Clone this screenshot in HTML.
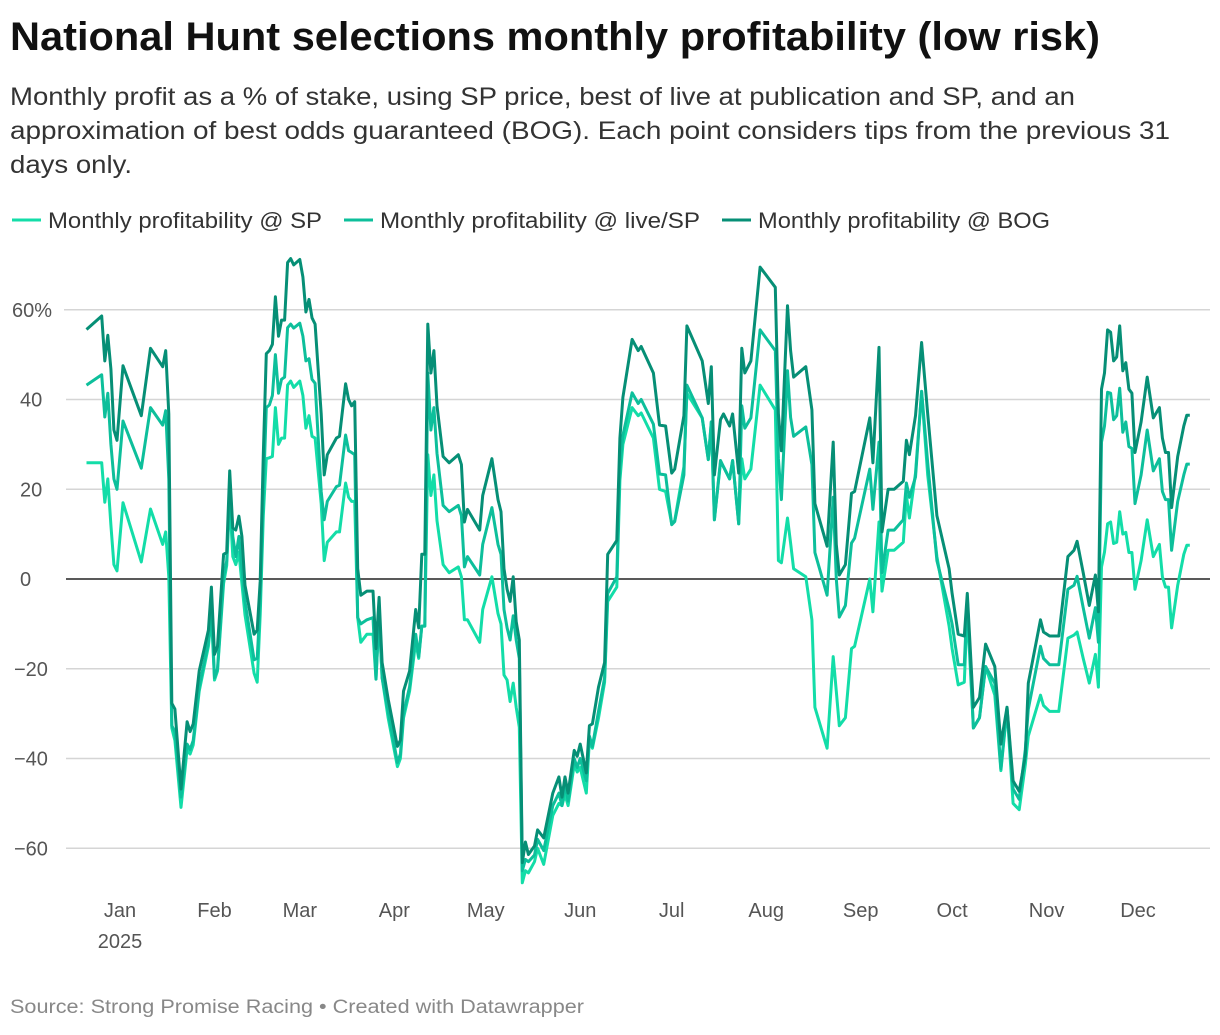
<!DOCTYPE html>
<html><head><meta charset="utf-8"><style>
body{margin:0;background:#fff;width:1220px;height:1030px;overflow:hidden;font-family:"Liberation Sans",sans-serif}
svg text{font-family:"Liberation Sans",sans-serif}
</style></head><body>
<svg id="chart" width="1220" height="1030" xmlns="http://www.w3.org/2000/svg">
<text x="10" y="50" font-size="40" font-weight="bold" fill="#111" textLength="1090" lengthAdjust="spacingAndGlyphs">National Hunt selections monthly profitability (low risk)</text>
<g font-size="25" fill="#333">
<text x="10" y="105" textLength="1065" lengthAdjust="spacingAndGlyphs">Monthly profit as a % of stake, using SP price, best of live at publication and SP, and an</text>
<text x="10" y="139" textLength="1160" lengthAdjust="spacingAndGlyphs">approximation of best odds guaranteed (BOG). Each point considers tips from the previous 31</text>
<text x="10" y="173" textLength="122" lengthAdjust="spacingAndGlyphs">days only.</text>
</g>
<g id="legend" font-size="22" fill="#333"></g>
<g id="grid"></g>
<g id="yaxis" font-size="20" fill="#555"></g>
<g id="xaxis" font-size="20" fill="#555"></g>
<g id="lines"></g>
<text x="10" y="1013" font-size="19" fill="#888" textLength="574" lengthAdjust="spacingAndGlyphs">Source: Strong Promise Racing • Created with Datawrapper</text>
</svg>
<script>
const days=[-11,-6,-5,-4,-3,-2,-1,1,7,10,14,15,16,17,18,20,22,23,24,26,29,30,31,32,34,35,36,37,38,39,40,41,44,45,46,47,48,49,50,51,52,53,54,55,56,57,59,60,61,62,63,64,66,67,68,71,72,74,75,76,77,78,79,81,83,84,85,86,88,91,92,93,95,97,98,99,100,101,102,103,104,106,108,111,112,113,114,118,119,122,124,125,126,127,128,129,130,131,132,133,134,136,137,139,142,144,145,146,147,149,150,151,153,154,155,157,159,160,163,164,165,168,170,171,175,177,179,181,182,185,186,191,193,194,195,197,198,200,201,203,204,205,207,210,215,216,217,219,220,221,225,227,228,232,234,235,236,238,240,241,246,247,249,250,252,254,257,258,259,261,263,265,268,272,273,275,277,278,280,282,284,287,289,291,293,295,297,298,302,303,305,308,311,313,314,316,318,320,321,322,323,324,325,326,327,328,329,330,331,332,333,335,337,339,341,342,343,344,345,347,349,350,351];
const bogValues=[55.6,58.6,48.6,54.3,46.8,33.2,30.9,47.5,36.4,51.4,47.3,50.9,36.8,-27.7,-29,-46.8,-31.8,-34,-32.3,-20.5,-11.4,-1.8,-16.8,-15,5.5,5.9,24.1,11.4,10.9,14,9.5,-1.4,-12.3,-11.4,-0.5,27.7,50.2,50.9,52.3,62.9,54.1,57.7,57.7,70.5,71.4,70,71.2,67.3,59.5,62.3,58.2,56.8,36.8,23.2,27.7,31.4,31.8,43.5,40,38.6,39.5,2.3,-3.6,-2.7,-2.7,-15.5,-4.1,-18.6,-26.8,-37.3,-35.9,-25,-20.5,-6.8,-10.9,5.5,5.5,56.8,45.9,50.9,38.6,27.3,25.9,27.7,25.5,12.7,15.5,10.9,18.6,26.8,17.7,15,2.3,-2.3,-5,0.5,-9.5,-13.6,-63.2,-58.6,-61.4,-59.5,-55.9,-57.7,-47.7,-44.1,-48.6,-44.1,-47.7,-38.2,-39.5,-36.8,-43.2,-32.7,-32.3,-24.1,-18.6,5.5,8.6,31.4,40.5,53.4,50.9,51.8,45.9,34.3,34.1,23.6,24.5,36.4,56.4,48.6,39.1,47.3,23.2,35.5,36.8,34.1,36.8,23.6,51.4,45.9,48.6,69.5,65,36.8,28.6,60.9,50.9,45,47.3,37.7,16.8,7.3,30.5,7.7,0.9,3.2,19.1,19.5,35.9,25.9,51.6,10.5,20,20,21.8,30.9,27.7,36.4,52.7,36.8,14.1,2.3,-3.2,-12.3,-12.7,-3.2,-28.6,-26.4,-14.5,-19.5,-36.8,-28.6,-45,-47.3,-39.5,-23.2,-9.1,-11.8,-12.7,-12.7,5,6.4,8.4,1.4,-5.9,0.9,-7.3,42.3,45.9,55.5,55,48.6,49.5,56.4,46.4,48.2,42.3,41.4,28.2,35,45,35.9,38.2,31.4,28.2,28.2,15.9,27.3,34.1,36.5,36.5];
const liveValues=[43.2,45.5,36.1,41.4,30,22.3,20,35.2,24.7,38.2,34.3,37.5,22.3,-32.7,-34,-48.6,-36.8,-38,-36,-24,-14,-6,-22,-20,0.5,4,20.5,9.5,5,9.5,2.3,-5,-18,-17.7,-5,18.6,38.2,38.8,40.9,50,41.4,44.5,45,56,56.8,55.9,57,54.1,48.6,49.1,44.5,43.6,19.5,13.2,17.3,20.6,20.9,32.1,28.6,28.2,27.7,-8.6,-10,-9.1,-8.6,-22.3,-7.7,-22,-29.5,-40.9,-39,-30,-24,-12.3,-17.3,-10.5,-10.5,45.9,33.2,38.2,28,16.4,15,16.4,14.1,2.7,5,0.9,7.7,15.9,7.7,5.5,-6.8,-10.9,-13.6,-8.2,-13.6,-17.7,-65,-62.5,-63,-61.5,-58,-60.5,-50.5,-47.7,-50.5,-45.5,-49.5,-40,-42,-40,-45,-35,-37.3,-29.5,-22,-3.2,0.5,25,32,41.5,39.1,40,34.5,23.4,23.2,12.1,12.8,23.2,43.2,35.9,26.6,35,13.2,26.4,25,22.3,26.4,12.3,38.6,33.6,35.9,55.5,50.9,26.8,17.7,46.4,36,31.8,33.9,25.5,5.9,-3.6,18.2,0,-8.5,-5.9,8,9.1,24.5,15.5,30.5,1.4,10.9,10.9,13.2,21.4,18.2,22.7,41.8,25.9,4.1,-6.8,-10,-19.1,-19.1,-4.1,-33.2,-30.9,-19.5,-23.2,-42.3,-28.6,-46.8,-49.1,-38,-29,-15,-17.7,-19.1,-19.1,-2.3,-1.4,0.6,-6.4,-13.2,-6.4,-14.1,30.5,34.1,41.6,41.4,35.5,36.4,42.5,32.7,35,29.5,29.1,16.8,23.2,33.2,24.1,26.8,19.5,17.7,17.7,6.4,17.3,23.2,25.6,25.6];
const spValues=[25.9,25.9,17.1,22.3,12,3.2,1.8,17,3.8,15.6,7.7,10.5,0.5,-33.2,-36,-50.9,-38,-39,-37,-25,-15,-8,-22.5,-20.5,-1,3,17.8,5,3.2,6,-1,-8,-21,-23,-8,14.1,26.8,27,27.3,38.2,30,31.4,31.4,43.2,44.1,42.7,44.1,40.9,33.6,36.4,31.8,31.4,16.8,4.1,8.2,10.5,10.5,21.4,18.2,17.3,17.3,-8.6,-14.1,-12.3,-12.3,-22.3,-7.7,-22,-31,-41.8,-40,-31,-25,-14,-17.7,-10.5,-10.5,27.7,18.6,23.2,13,3.2,1.4,2.7,0.5,-9.1,-9.1,-14.1,-6.8,0.5,-7.7,-10,-21.4,-22.5,-27.3,-23.2,-28.6,-33,-67.7,-65,-65.5,-63,-60,-63.6,-52.7,-50,-50.5,-48,-50.5,-41.4,-43,-42,-47.7,-35.9,-37.7,-31,-23,-5,-1.8,22,30,38.2,36.4,37,31.4,20,19.5,12.3,13,25,41.4,35.9,26.6,35,13.2,26,25,22.3,26.4,12.3,26.8,22.3,24.5,43.2,37.7,4.1,3.6,13.6,8,2.3,0.5,-9.1,-28.6,-37.7,-17.3,-25,-32.7,-30.9,-15.5,-15,0,-7.3,12.7,-2.7,6.4,6.4,8.2,18.6,13.6,23.6,41.8,23.2,5,-10.5,-15.5,-23.6,-23,-6.8,-33.2,-30.9,-19.5,-25.9,-42.7,-29,-50,-51.4,-41.4,-35,-25.9,-28.2,-29.5,-29.5,-13.2,-12.5,-11.8,-17.7,-23.2,-16.8,-24.1,2.7,6,12.3,12.7,7.9,8.2,15,10,10.4,5.9,5.9,-2.3,4.1,13.2,5,7.7,0.5,-1.8,-1.8,-10.9,-1.4,5.5,7.5,7.5];
const yTicks=[60,40,20,0,-20,-40,-60];
const monthLabels=["Jan","Feb","Mar","Apr","May","Jun","Jul","Aug","Sep","Oct","Nov","Dec"];
const monthStarts=[0,31,59,90,120,151,181,212,243,273,304,334];
const seriesNames=["Monthly profitability @ SP","Monthly profitability @ live/SP","Monthly profitability @ BOG"];

const NS="http://www.w3.org/2000/svg";
const X0=120, DX=3.048, Y0=579, DY=4.4875;
function xs(d){return X0+d*DX;}
function ys(v){return Y0-v*DY;}
function mk(tag,attrs,parent){const e=document.createElementNS(NS,tag);for(const k in attrs)e.setAttribute(k,attrs[k]);parent.appendChild(e);return e;}
const colors=["#13dda8","#0dbf9b","#068f76"];
const grid=document.getElementById('grid'),yax=document.getElementById('yaxis'),xax=document.getElementById('xaxis'),lines=document.getElementById('lines'),legend=document.getElementById('legend');
yTicks.forEach(t=>{
  const l=mk('line',{x1:t===60?64:66,x2:1210,y1:ys(t),y2:ys(t),stroke:t===0?'#222':'#d5d5d5','stroke-width':1.5},grid);
  
  
  const tx=mk('text',{x:t===60?12:(t<0?14:20),y:ys(t)+7},yax);
  tx.textContent=(t<0?'\u2212'+Math.abs(t):t)+(t===60?'%':'');
  
  
});
monthLabels.forEach((m,i)=>{
  const tx=mk('text',{x:xs(monthStarts[i]),y:917,'text-anchor':'middle'},xax);
  tx.textContent=m;
  
  
});
const yr=mk('text',{x:xs(0),y:948,'text-anchor':'middle'},xax);
yr.textContent='2025';


[spValues,liveValues,bogValues].forEach((vals,si)=>{
  const d=vals.map((v,i)=>(i?'L':'M')+xs(days[i]).toFixed(1)+','+ys(v).toFixed(1)).join('');
  const p=mk('path',{d:d,fill:'none',stroke:colors[si],'stroke-width':3,'stroke-linejoin':'round'},lines);
  
  
});
const lx=[12,344,722];
const lw=[274,320,292];
seriesNames.forEach((n,i)=>{
  const g=mk('g',{},legend);
  
  
  mk('line',{x1:lx[i],x2:lx[i]+29,y1:220,y2:220,stroke:colors[i],'stroke-width':3},g);
  const t=mk('text',{x:lx[i]+36,y:228,textLength:lw[i],lengthAdjust:'spacingAndGlyphs'},g);
  t.textContent=n;
});
</script>
</body></html>
